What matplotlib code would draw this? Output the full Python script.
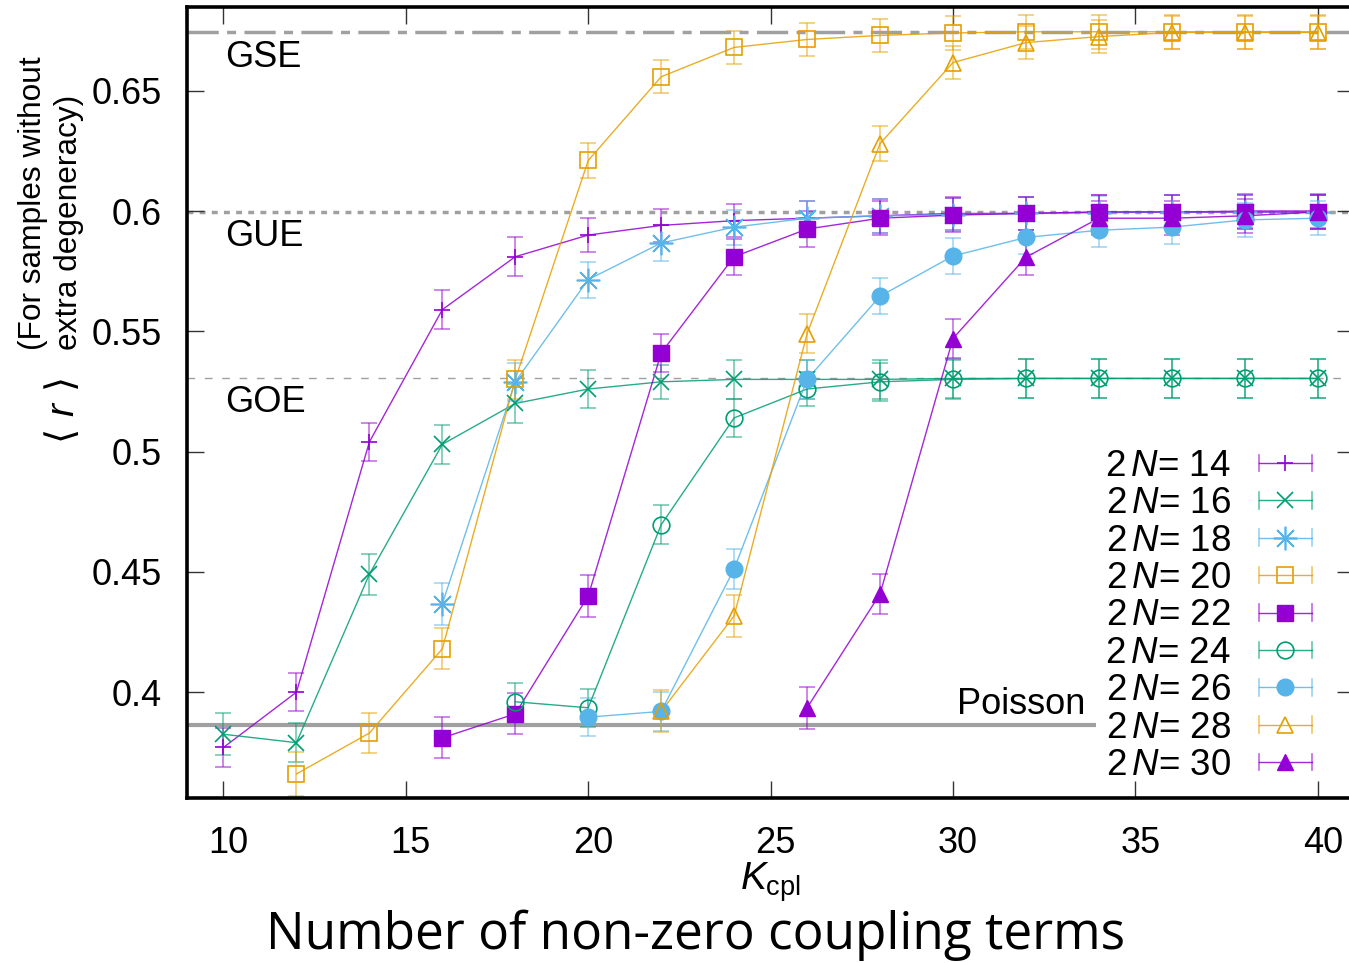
import matplotlib
matplotlib.use("Agg")
import matplotlib.pyplot as plt
from matplotlib.lines import Line2D
from matplotlib.legend_handler import HandlerBase
import matplotlib.transforms as mtransforms
import numpy as np

plt.rcParams['font.family'] = ['Liberation Sans', 'DejaVu Sans']
plt.rcParams['mathtext.fontset'] = 'custom'
plt.rcParams['mathtext.rm'] = 'Liberation Sans'
plt.rcParams['mathtext.it'] = 'Liberation Sans:italic'
plt.rcParams['mathtext.bf'] = 'Liberation Sans:bold'

# ---------------- data ----------------
labels = ['14', '16', '18', '20', '22', '24', '26', '28', '30']

x14 = [10, 12, 14, 16, 18, 20, 22, 24, 26, 28, 30, 32, 34, 36, 38, 40]
y14 = [0.377, 0.400, 0.504, 0.559, 0.581, 0.590, 0.594, 0.596, 0.597, 0.598, 0.599, 0.599, 0.5995, 0.5995, 0.600, 0.600]
e14 = [0.008, 0.008, 0.008, 0.008, 0.008, 0.007, 0.007, 0.007, 0.007, 0.007, 0.007, 0.007, 0.007, 0.007, 0.007, 0.007]

x16 = [10, 12, 14, 16, 18, 20, 22, 24, 26, 28, 30, 32, 34, 36, 38, 40]
y16 = [0.3825, 0.379, 0.449, 0.503, 0.520, 0.526, 0.529, 0.530, 0.530, 0.530, 0.5304, 0.5304, 0.5304, 0.5304, 0.5304, 0.5304]
e16 = [0.0087, 0.008, 0.0085, 0.008, 0.008, 0.008, 0.007, 0.008, 0.008, 0.008, 0.008, 0.008, 0.008, 0.008, 0.008, 0.008]

x18 = [16, 18, 20, 22, 24, 26, 28, 30, 32, 34, 36, 38, 40]
y18 = [0.4367, 0.529, 0.5715, 0.5867, 0.5933, 0.597, 0.598, 0.5985, 0.599, 0.5993, 0.5995, 0.5996, 0.5996]
e18 = [0.0087, 0.008, 0.0075, 0.0073, 0.0073, 0.007, 0.007, 0.007, 0.007, 0.007, 0.007, 0.007, 0.007]

x20 = [12, 14, 16, 18, 20, 22, 24, 26, 28, 30, 32, 34, 36, 38, 40]
y20 = [0.366, 0.383, 0.418, 0.530, 0.621, 0.6558, 0.668, 0.6713, 0.673, 0.674, 0.6745, 0.6745, 0.6745, 0.6745, 0.6745]
e20 = [0.009, 0.0085, 0.0085, 0.008, 0.0073, 0.0068, 0.007, 0.007, 0.007, 0.007, 0.007, 0.007, 0.007, 0.007, 0.007]

x22 = [16, 18, 20, 22, 24, 26, 28, 30, 32, 34, 36, 38, 40]
y22 = [0.381, 0.391, 0.440, 0.541, 0.581, 0.5925, 0.597, 0.5983, 0.599, 0.5996, 0.5996, 0.5996, 0.5996]
e22 = [0.0085, 0.0085, 0.0087, 0.008, 0.0075, 0.0075, 0.007, 0.007, 0.007, 0.007, 0.007, 0.007, 0.007]

x24 = [18, 20, 22, 24, 26, 28, 30, 32, 34, 36, 38, 40]
y24 = [0.396, 0.3935, 0.4696, 0.514, 0.526, 0.529, 0.530, 0.5304, 0.5304, 0.5304, 0.5304, 0.5304]
e24 = [0.008, 0.008, 0.008, 0.008, 0.007, 0.008, 0.008, 0.008, 0.008, 0.008, 0.008, 0.008]

x26 = [20, 22, 24, 26, 28, 30, 32, 34, 36, 38, 40]
y26 = [0.3896, 0.392, 0.4512, 0.530, 0.5646, 0.5813, 0.589, 0.592, 0.5933, 0.5963, 0.597]
e26 = [0.008, 0.008, 0.0083, 0.008, 0.0075, 0.0075, 0.007, 0.007, 0.007, 0.007, 0.007]

x28 = [22, 24, 26, 28, 30, 32, 34, 36, 38, 40]
y28 = [0.392, 0.4317, 0.549, 0.628, 0.6617, 0.670, 0.6725, 0.6742, 0.6742, 0.6742]
e28 = [0.0087, 0.0087, 0.008, 0.0073, 0.007, 0.007, 0.007, 0.007, 0.007, 0.007]

x30 = [26, 28, 30, 32, 34, 36, 38, 40]
y30 = [0.3935, 0.4408, 0.547, 0.5808, 0.597, 0.597, 0.598, 0.5996]
e30 = [0.0088, 0.0085, 0.008, 0.0075, 0.007, 0.007, 0.007, 0.007]

GSE = 0.6744
GUE = 0.5996
GOE = 0.5307
POISSON = 0.3863

xticks = [10, 15, 20, 25, 30, 35, 40]
yticks = [0.4, 0.45, 0.5, 0.55, 0.6, 0.65]
ytick_labels = ['0.4', '0.45', '0.5', '0.55', '0.6', '0.65']

# ---------------- styles ----------------
PURPLE = '#9400D3'
GREEN = '#009E73'
BLUE = '#56B4E9'
ORANGE = '#E69F00'
GRAY = '#A0A0A0'

MS = 12
series = [
    (x14, y14, e14, PURPLE, '+', False, MS),
    (x16, y16, e16, GREEN, 'x', False, MS),
    (x18, y18, e18, BLUE, (8, 2, 0), False, 17),
    (x20, y20, e20, ORANGE, 's', False, MS),
    (x22, y22, e22, PURPLE, 's', True, MS),
    (x24, y24, e24, GREEN, 'o', False, MS),
    (x26, y26, e26, BLUE, 'o', True, MS),
    (x28, y28, e28, ORANGE, '^', False, MS),
    (x30, y30, e30, PURPLE, '^', True, MS),
]

fig = plt.figure(figsize=(13.49, 9.63), dpi=100)
W, H = 1349.0, 963.0
ax_left, ax_right, ax_top, ax_bottom = 187.0, 1354.2, 7.0, 798.0
ax = fig.add_axes([ax_left / W, 1 - ax_bottom / H, (ax_right - ax_left) / W, (ax_bottom - ax_top) / H])
ax.set_xlim(9.0, 41.0)
ax.set_ylim(0.356, 0.6848)

# reference lines
ax.axhline(GSE, color=GRAY, lw=2.5, linestyle=(0, (9.0, 2.4, 2.6, 2.4)), zorder=1)
ax.axhline(GUE, color=GRAY, lw=2.5, linestyle=(0, (1.7, 1.8)), zorder=1)
ax.axhline(GOE, color=GRAY, lw=1.0, linestyle=(0, (5.5, 7.0)), zorder=1)
ax.hlines(POISSON, 9.0, 33.92, color=GRAY, lw=3.0, zorder=1)

handles = []
for (xs, ys, es, col, mk, filled, ms) in series:
    ax.errorbar(xs, ys, yerr=es, fmt='none', ecolor=col, elinewidth=1.2,
                capsize=6, capthick=1.2, alpha=0.55, zorder=2)
    ax.plot(xs, ys, color=col, lw=1.0, alpha=0.85, zorder=3)
    if filled:
        ax.plot(xs, ys, linestyle='none', marker=mk, ms=ms, color=col,
                markerfacecolor=col, markeredgecolor=col, markeredgewidth=1.0, zorder=4)
    else:
        ax.plot(xs, ys, linestyle='none', marker=mk, ms=ms, color=col,
                markerfacecolor='none', markeredgecolor=col, markeredgewidth=1.2, zorder=4)
    h = Line2D([], [], color=col, marker=mk, ms=ms,
               markerfacecolor=(col if filled else 'none'), markeredgecolor=col,
               markeredgewidth=(1.0 if filled else 1.2), lw=1.0)
    handles.append(h)


class HandlerHErr(HandlerBase):
    def create_artists(self, legend, orig_handle, xdescent, ydescent, width, height, fontsize, trans):
        y = height / 2.0 - ydescent
        x0 = -xdescent
        x1 = -xdescent + width
        col = orig_handle.get_color()
        art = []
        ln = Line2D([x0, x1], [y, y], color=col, lw=1.0, alpha=0.85)
        capl = Line2D([x0, x0], [y - 6, y + 6], color=col, lw=1.2, alpha=0.6)
        capr = Line2D([x1, x1], [y - 6, y + 6], color=col, lw=1.2, alpha=0.6)
        mk = Line2D([(x0 + x1) / 2], [y], linestyle='none', marker=orig_handle.get_marker(),
                    ms=orig_handle.get_markersize(), markerfacecolor=orig_handle.get_markerfacecolor(),
                    markeredgecolor=orig_handle.get_markeredgecolor(),
                    markeredgewidth=orig_handle.get_markeredgewidth())
        for a in (ln, capl, capr, mk):
            a.set_transform(trans)
            art.append(a)
        return art


leg_labels = ['2$\\,N$= ' + s for s in labels]
leg = ax.legend(handles, leg_labels, handler_map={Line2D: HandlerHErr()},
                loc='lower right', bbox_to_anchor=((1312 - ax_left) / (ax_right - ax_left), (798 - 783) / (798 - 7)),
                frameon=False, markerfirst=False, fontsize=26.5, handlelength=1.45,
                handletextpad=0.75, labelspacing=0.065, borderaxespad=0, borderpad=0)

# annotations
ax.text(10.05, 0.6640, 'GSE', fontsize=26, va='center', ha='left')
ax.text(10.05, 0.5895, 'GUE', fontsize=26, va='center', ha='left')
ax.text(10.05, 0.5205, 'GOE', fontsize=26, va='center', ha='left')
ax.text(33.62, 0.3950, 'Poisson', fontsize=26, va='center', ha='right')

# ticks
ax.set_xticks(xticks)
ax.set_xticklabels([str(t) for t in xticks])
ax.set_yticks(yticks)
ax.set_yticklabels(ytick_labels)
ax.tick_params(axis='both', which='major', direction='in', length=12, width=1.0,
               top=True, right=True, labelsize=26, color='#333333')
ax.tick_params(axis='x', pad=20)
ax.tick_params(axis='y', pad=18)
offset = mtransforms.ScaledTranslation(5 / 100.0, 0, fig.dpi_scale_trans)
for lab in ax.get_xticklabels():
    lab.set_transform(lab.get_transform() + offset)
for sp in ax.spines.values():
    sp.set_linewidth(2.6)
    sp.set_color('black')

# axis labels
fig.text(770.5 / W, 1 - 882 / H, '$K_{\\mathrm{cpl}}$', fontsize=28, ha='center', va='center')
fig.text(696 / W, 1 - 935 / H, 'Number of non-zero coupling terms', fontsize=37,
         ha='center', va='center', family=['Open Sans', 'DejaVu Sans'])
fig.text(63 / W, 1 - 411 / H, '\u27e8 $r$ \u27e9', fontsize=28, rotation=90,
         ha='center', va='center', family=['DejaVu Sans'])
fig.text(51 / W, 1 - 350 / H, '(For samples without\nextra degeneracy)', fontsize=22.8,
         rotation=90, ha='center', va='bottom', multialignment='left', linespacing=1.25)

fig.savefig('out.png', dpi=100)
